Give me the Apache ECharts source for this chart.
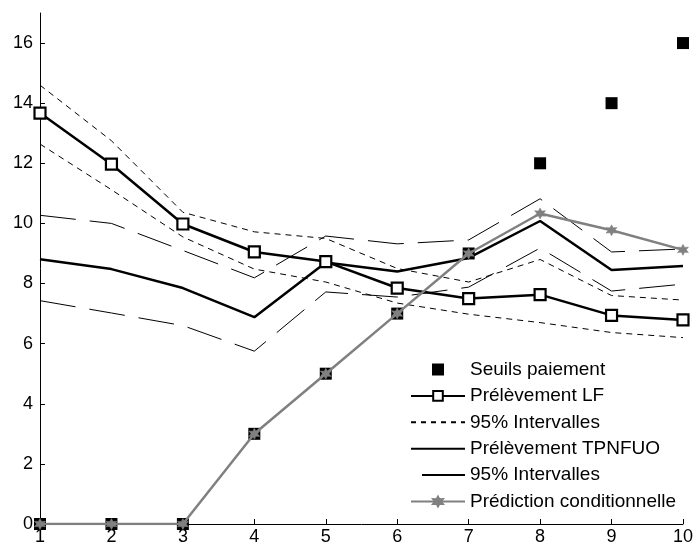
<!DOCTYPE html>
<html>
<head>
<meta charset="utf-8">
<script src="https://cdn.jsdelivr.net/npm/echarts@6/dist/echarts.min.js"></script>
<style>
html,body{margin:0;padding:0;background:#fff;}
#chart{width:696px;height:547px;}
</style>
</head>
<body>
<div id="chart"></div>
<script>
var xs = [1, 2, 3, 4, 5, 6, 7, 8, 9, 10];
var seuils = [0, 0, 0, 3, 5, 7, 9, 12, 14, 16];
var lf = [13.67, 11.97, 9.98, 9.05, 8.73, 7.85, 7.5, 7.63, 6.94, 6.79];
var lfUpper = [14.6, 12.75, 10.37, 9.72, 9.5, 8.5, 8.05, 8.8, 7.6, 7.45];
var lfLower = [12.64, 11.12, 9.55, 8.48, 8.05, 7.35, 6.98, 6.7, 6.37, 6.2];
var tp = [8.81, 8.48, 7.85, 6.88, 8.7, 8.4, 8.85, 10.08, 8.45, 8.58];
var tpUpper = [10.27, 10.0, 9.1, 8.19, 9.58, 9.32, 9.45, 10.82, 9.05, 9.15];
var tpLower = [7.43, 7.02, 6.6, 5.75, 7.72, 7.55, 7.88, 9.18, 7.75, 7.98];
var pred = [0, 0, 0, 3, 5, 7, 9, 10.33, 9.77, 9.12];
var yTicks = [0, 2, 4, 6, 8, 10, 12, 14, 16];
var xTicks = [1, 2, 3, 4, 5, 6, 7, 8, 9, 10];

var names = ['Seuils paiement', 'Prélèvement LF', '95% Intervalles', 'Prélèvement TPNFUO', '95% Intervalles\u200b', 'Prédiction conditionnelle'];

function pairs(arr) { return xs.map(function (x, i) { return [x, arr[i]]; }); }

var FONT = 'Arial, "Liberation Sans", sans-serif';
var star = 'path://M0,-10 L2.6,-4.5 L8.7,-5 L5.2,0 L8.7,5 L2.6,4.5 L0,10 L-2.6,4.5 L-8.7,5 L-5.2,0 L-8.7,-5 L-2.6,-4.5 Z';
var hide = {opacity: 0};

var chart = echarts.init(document.getElementById('chart'), null, {renderer: 'canvas'});
chart.setOption({
  animation: false,
  backgroundColor: '#fff',
  grid: {left: 40, right: 9, top: 13, bottom: 23},
  xAxis: {
    type: 'value', min: 1, max: 10, interval: 1,
    axisLine: {show: true, onZero: false, lineStyle: {color: '#000', width: 1}},
    axisTick: {inside: true, length: 5, lineStyle: {color: '#000'}, customValues: xTicks},
    axisLabel: {color: '#000', fontSize: 18, fontFamily: FONT, margin: 4, customValues: xTicks},
    splitLine: {show: false}
  },
  yAxis: {
    type: 'value', min: 0, max: 17, interval: 2,
    axisLine: {show: true, lineStyle: {color: '#000', width: 1}},
    axisTick: {show: true, inside: true, length: 5, lineStyle: {color: '#000'}, customValues: yTicks},
    axisLabel: {color: '#000', fontSize: 18, fontFamily: FONT, margin: 7, customValues: yTicks},
    splitLine: {show: false}
  },
  legend: {
    orient: 'vertical', left: 405, top: 355, height: 200,
    itemWidth: 54, itemHeight: 12, itemGap: 7.4,
    data: [
      {name: names[0], icon: 'path://M0,0 H10 V10 H0 Z', itemStyle: {color: '#000'}},
      {name: names[1]},
      {name: names[2], itemStyle: hide, lineStyle: {type: [5, 5]}},
      {name: names[3], itemStyle: hide},
      {name: names[4], itemStyle: hide, lineStyle: {type: [0, 11, 43, 20]}},
      {name: names[5]}
    ],
    textStyle: {color: '#000', fontSize: 19, fontFamily: FONT},
    selectedMode: false
  },
  series: [
    {name: names[0], type: 'scatter', data: pairs(seuils), symbol: 'rect', symbolSize: 12,
      itemStyle: {color: '#000', opacity: 1}, z: 2},
    {name: names[2], type: 'line', data: pairs(lfUpper), symbol: 'none',
      itemStyle: {color: '#000'},
      lineStyle: {color: '#000', width: 1, type: [6, 5]}, z: 3},
    {name: names[2], type: 'line', data: pairs(lfLower), symbol: 'none',
      itemStyle: {color: '#000'},
      lineStyle: {color: '#000', width: 1, type: [6, 5]}, z: 3},
    {name: names[4], type: 'line', data: pairs(tpUpper), symbol: 'none',
      itemStyle: {color: '#000'},
      lineStyle: {color: '#000', width: 1, type: [36, 14]}, z: 3},
    {name: names[4], type: 'line', data: pairs(tpLower), symbol: 'none',
      itemStyle: {color: '#000'},
      lineStyle: {color: '#000', width: 1, type: [36, 14]}, z: 3},
    {name: names[3], type: 'line', data: pairs(tp), symbol: 'none',
      lineStyle: {color: '#000', width: 2.5}, itemStyle: {color: '#000'}, z: 4},
    {name: names[1], type: 'line', data: pairs(lf), symbol: 'rect', symbolSize: 11, showSymbol: true,
      lineStyle: {color: '#000', width: 2.5},
      itemStyle: {color: '#fff', borderColor: '#000', borderWidth: 2.2}, z: 5},
    {name: names[5], type: 'line', data: pairs(pred), symbol: star, symbolSize: 11, showSymbol: true,
      lineStyle: {color: '#808080', width: 2.5},
      itemStyle: {color: '#808080', borderColor: '#808080', borderWidth: 0.5}, z: 6}
  ]
});
</script>
</body>
</html>
